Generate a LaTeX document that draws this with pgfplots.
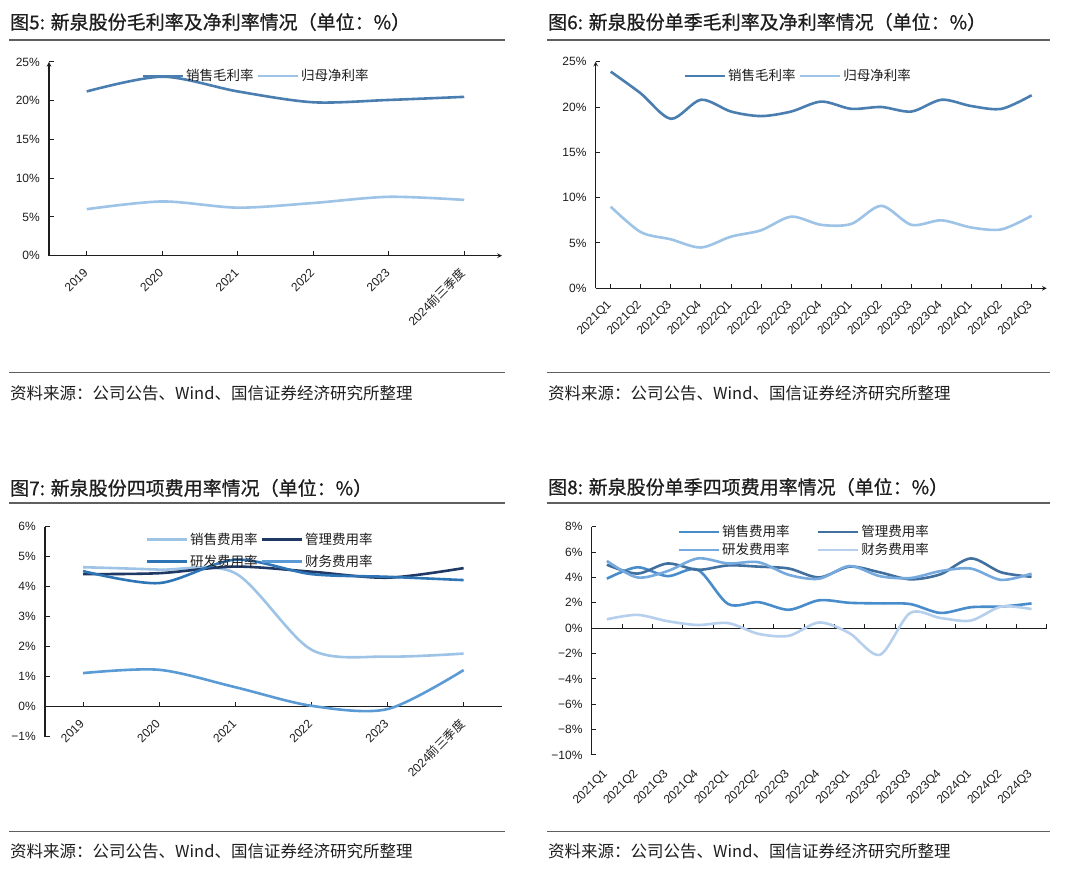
\documentclass[border=0pt]{standalone}
\usepackage{fontspec}
\setmainfont{Liberation Sans}
\newfontfamily\cjk{Noto Sans CJK SC}
\newfontfamily\cjkt{Noto Sans CJK SC}[FakeBold=0.7]
\usepackage{pgfplots}
\pgfplotsset{compat=1.18}

\definecolor{txt}{RGB}{30,30,30}
\definecolor{rulegray}{RGB}{95,95,95}
% top panels
\definecolor{gross}{RGB}{74,126,177}
\definecolor{net}{RGB}{157,195,230}
% fig 7
\definecolor{sellA}{RGB}{157,195,230}
\definecolor{mgmtA}{RGB}{31,56,100}
\definecolor{rdA}{RGB}{46,117,182}
\definecolor{finA}{RGB}{91,155,213}
% fig 8
\definecolor{sellB}{RGB}{72,140,204}
\definecolor{mgmtB}{RGB}{66,112,158}
\definecolor{rdB}{RGB}{118,170,222}
\definecolor{finB}{RGB}{182,207,236}

\pgfplotsset{
  panel/.style={
    scale only axis, clip=false,
    xmin=-0.5,
    axis line style={-, line width=1.1pt, color=txt},
    major tick length=4.5pt,
    tick style={line width=1pt, color=txt},
    tick label style={font=\fontsize{12}{13}\selectfont, text=txt},
    yticklabel style={inner sep=0pt, xshift=-9pt},
    xticklabel style={inner sep=0pt, yshift=-15pt, xshift=-1pt, rotate=45, anchor=east},
    every axis plot/.append style={line width=2.6pt, smooth, tension=0.5, mark=none},
    legend style={draw=none, fill=none, font=\cjk\fontsize{13.5}{14}\selectfont,
      text=txt, anchor=center, legend cell align=left},
    legend columns=2,
    legend image code/.code={\draw[##1, line width=2.6pt] (0pt,0pt) -- (40pt,0pt);},
    hide obscured y ticks=false,
  },
}

\newcommand\ttl[1]{{\cjkt\fontsize{19}{21}\selectfont\color{txt}#1}}
\newcommand\src{{\cjk\fontsize{16.5}{18}\selectfont\color{txt}资料来源：公司公告、Wind、国信证券经济研究所整理}}

\begin{document}
\begin{tikzpicture}[x=1pt,y=1pt]
\path[use as bounding box, fill=white] (0,0) rectangle (1080,880);

% titles and rules
\node[anchor=west, inner sep=0pt] at (10,858) {\ttl{图5: 新泉股份毛利率及净利率情况（单位：\%）}};
\node[anchor=west, inner sep=0pt] at (548,858) {\ttl{图6: 新泉股份单季毛利率及净利率情况（单位：\%）}};
\node[anchor=west, inner sep=0pt] at (10,392) {\ttl{图7: 新泉股份四项费用率情况（单位：\%）}};
\node[anchor=west, inner sep=0pt] at (548,393) {\ttl{图8: 新泉股份单季四项费用率情况（单位：\%）}};
\draw[rulegray, line width=1.3pt] (9,840) -- (505,840);
\draw[rulegray, line width=1.3pt] (547,840) -- (1050,840);
\draw[rulegray, line width=1.3pt] (9,377) -- (505,377);
\draw[rulegray, line width=1.3pt] (547,377) -- (1050,377);
\draw[rulegray, line width=1.1pt] (9,507.3) -- (505,507.3);
\draw[rulegray, line width=1.1pt] (547,507.3) -- (1050,507.3);
\draw[rulegray, line width=1.1pt] (9,48.5) -- (505,48.5);
\draw[rulegray, line width=1.1pt] (547,48.5) -- (1050,48.5);
\node[anchor=west, inner sep=0pt] at (10,487) {\src};
\node[anchor=west, inner sep=0pt] at (548,487) {\src};
\node[anchor=west, inner sep=0pt] at (10,28.5) {\src};
\node[anchor=west, inner sep=0pt] at (548,28.5) {\src};

% Fig 5
\begin{axis}[panel, at={(49pt,624.3pt)}, anchor=south west, width=453pt, height=193.7pt,
  axis x line=bottom, axis y line=left, tick align=inside,
  xmax=5.5, ymin=0, ymax=25,
  xtick={0,...,5}, xticklabels={2019,2020,2021,2022,2023,{2024{\cjk 前三季度}}},
  ytick={0,5,...,25}, yticklabels={0\%,5\%,10\%,15\%,20\%,25\%},
  legend style={at={(0.457,0.928)}, /tikz/every even column/.append style={column sep=1pt}}]
\addplot[gross] coordinates {(0,21.2) (1,23.1) (2,21.2) (3,19.8) (4,20.1) (5,20.5)};
\addlegendentry{销售毛利率}
\addplot[net] coordinates {(0,6.0) (1,7.0) (2,6.2) (3,6.8) (4,7.6) (5,7.2)};
\addlegendentry{归母净利率}
\end{axis}

% Fig 6
\begin{axis}[panel, at={(595.7pt,591.7pt)}, anchor=south west, width=451pt, height=226.6pt,
  axis x line=bottom, axis y line=left, tick align=inside,
  xmax=14.5, ymin=0, ymax=25,
  xtick={0,...,14}, xticklabels={2021Q1,2021Q2,2021Q3,2021Q4,2022Q1,2022Q2,2022Q3,2022Q4,2023Q1,2023Q2,2023Q3,2023Q4,2024Q1,2024Q2,2024Q3},
  ytick={0,5,...,25}, yticklabels={0\%,5\%,10\%,15\%,20\%,25\%},
  legend style={at={(0.449,0.937)}, /tikz/every even column/.append style={column sep=1pt}}]
\addplot[gross] coordinates {(0,23.9) (1,21.5) (2,18.7) (3,20.8) (4,19.5) (5,19.0) (6,19.5) (7,20.6) (8,19.8) (9,20.0) (10,19.5) (11,20.8) (12,20.1) (13,19.8) (14,21.3)};
\addlegendentry{销售毛利率}
\addplot[net] coordinates {(0,9.0) (1,6.2) (2,5.4) (3,4.5) (4,5.7) (5,6.4) (6,7.9) (7,7.0) (8,7.1) (9,9.1) (10,7.0) (11,7.5) (12,6.7) (13,6.5) (14,8.0)};
\addlegendentry{归母净利率}
\end{axis}

% Fig 7
\begin{axis}[panel, at={(45pt,143.3pt)}, anchor=south west, width=456.7pt, height=210pt,
  axis x line=middle, axis y line=left, axis line style={-}, tick align=inside,
  xmax=5.5, ymin=-1, ymax=6,
  xtick={0,...,5}, xticklabels={2019,2020,2021,2022,2023,{2024{\cjk 前三季度}}},
  ytick={-1,0,...,6}, yticklabels={−1\%,0\%,1\%,2\%,3\%,4\%,5\%,6\%},
  legend style={at={(0.471,0.887)}, /tikz/every even column/.append style={column sep=1pt},
    /tikz/row sep=5pt}]
\addplot[sellA] coordinates {(0,4.65) (1,4.57) (2,4.45) (3,1.9) (4,1.67) (5,1.77)};
\addlegendentry{销售费用率}
\addplot[mgmtA] coordinates {(0,4.42) (1,4.45) (2,4.67) (3,4.5) (4,4.3) (5,4.62)};
\addlegendentry{管理费用率}
\addplot[rdA] coordinates {(0,4.52) (1,4.12) (2,4.9) (3,4.42) (4,4.33) (5,4.22)};
\addlegendentry{研发费用率}
\addplot[finA] coordinates {(0,1.12) (1,1.23) (2,0.65) (3,0.03) (4,-0.08) (5,1.22)};
\addlegendentry{财务费用率}
\end{axis}

% Fig 8
\begin{axis}[panel, at={(591.7pt,125pt)}, anchor=south west, width=455pt, height=228.3pt,
  axis x line=middle, axis y line=left, axis line style={-}, tick align=inside,
  xmax=14.5, ymin=-10, ymax=8,
  xtick={0.5,1.5,...,14.5}, xticklabels={},
  ytick={-10,-8,...,8}, yticklabels={−10\%,−8\%,−6\%,−4\%,−2\%,0\%,2\%,4\%,6\%,8\%},
  legend style={at={(0.467,0.938)}, /tikz/every even column/.append style={column sep=25pt},
    /tikz/row sep=1pt}]
\addplot[sellB] coordinates {(0,3.9) (1,4.8) (2,4.1) (3,4.6) (4,1.9) (5,2.05) (6,1.45) (7,2.2) (8,2.0) (9,1.95) (10,1.9) (11,1.2) (12,1.65) (13,1.7) (14,1.95)};
\addlegendentry{销售费用率}
\addplot[mgmtB] coordinates {(0,5.0) (1,4.3) (2,5.1) (3,4.6) (4,4.95) (5,4.85) (6,4.7) (7,4.0) (8,4.85) (9,4.4) (10,3.85) (11,4.25) (12,5.5) (13,4.4) (14,4.05)};
\addlegendentry{管理费用率}
\addplot[rdB] coordinates {(0,5.3) (1,4.0) (2,4.5) (3,5.5) (4,5.1) (5,5.2) (6,4.2) (7,3.9) (8,4.9) (9,4.1) (10,3.95) (11,4.5) (12,4.7) (13,3.8) (14,4.3)};
\addlegendentry{研发费用率}
\addplot[finB] coordinates {(0,0.7) (1,1.05) (2,0.55) (3,0.25) (4,0.4) (5,-0.45) (6,-0.6) (7,0.45) (8,-0.4) (9,-2.1) (10,1.2) (11,0.8) (12,0.6) (13,1.7) (14,1.5)};
\addlegendentry{财务费用率}
\end{axis}
% quarter labels of fig 8 along the bottom
\begin{axis}[panel, at={(591.7pt,125pt)}, anchor=south west, width=455pt, height=228.3pt,
  hide y axis, axis x line=bottom, x axis line style={draw=none}, xtick style={draw=none},
  xmax=14.5, ymin=-10, ymax=8,
  xtick={0,...,14}, xticklabels={2021Q1,2021Q2,2021Q3,2021Q4,2022Q1,2022Q2,2022Q3,2022Q4,2023Q1,2023Q2,2023Q3,2023Q4,2024Q1,2024Q2,2024Q3}]
\addplot[draw=none] coordinates {(0,0)};
\end{axis}
\end{tikzpicture}
\end{document}
